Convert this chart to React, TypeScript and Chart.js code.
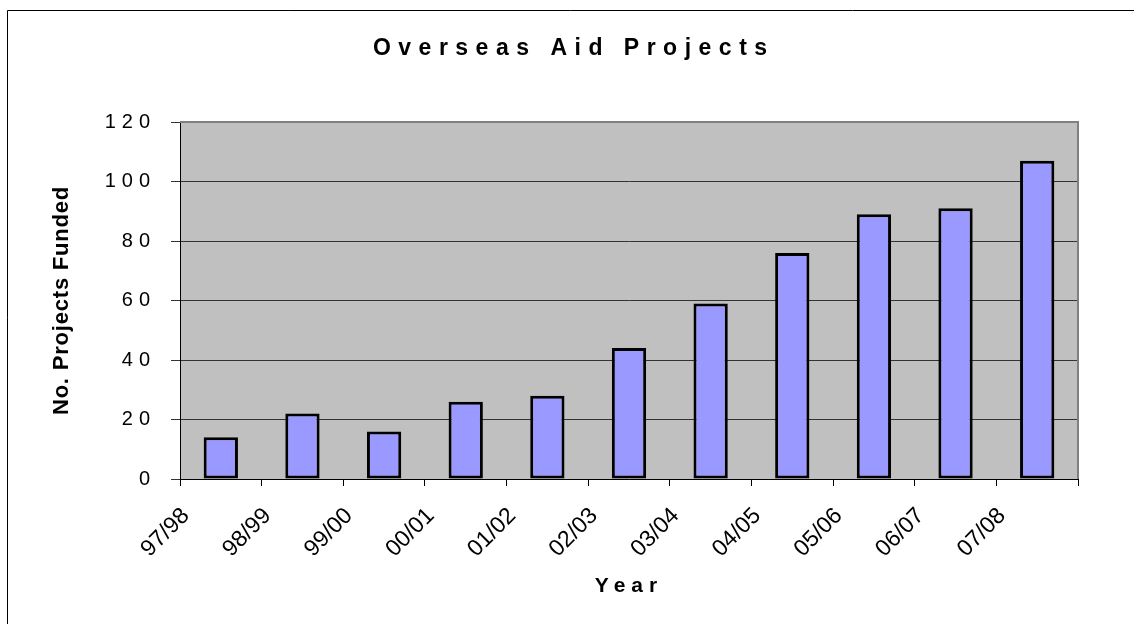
import React, { useEffect, useRef } from 'react';
import { Chart, registerables, LinearScale, CategoryScale } from 'chart.js';

const categories: string[] = ['97/98', '98/99', '99/00', '00/01', '01/02', '02/03', '03/04', '04/05', '05/06', '06/07', '07/08'];
const projectsFunded: number[] = [14, 22, 16, 26, 28, 44, 59, 76, 89, 91, 107];
const yMin = 0;
const yMax = 120;
const yStep = 20;
const chartTitle = 'Overseas Aid Projects';
const xAxisTitle = 'Year';
const yAxisTitle = 'No. Projects Funded';

const FONT = '"Liberation Sans", Arial, Helvetica, sans-serif';

class SpacedLinearScale extends LinearScale {
  static id = 'spacedLinear';
  drawLabels(area: any) {
    const ctx: any = this.ctx;
    ctx.save();
    ctx.letterSpacing = '6px';
    super.drawLabels(area);
    ctx.restore();
  }
  drawTitle() {
    const ctx: any = this.ctx;
    ctx.save();
    ctx.letterSpacing = '0.8px';
    super.drawTitle();
    ctx.restore();
  }
}

class SpacedCategoryScale extends CategoryScale {
  static id = 'spacedCategory';
  drawTitle() {
    const ctx: any = this.ctx;
    ctx.save();
    ctx.letterSpacing = '6px';
    super.drawTitle();
    ctx.restore();
  }
}

Chart.register(...registerables, SpacedLinearScale, SpacedCategoryScale);

const excelFrame = {
  id: 'excelFrame',
  beforeDraw(chart: any) {
    const { ctx, chartArea: a } = chart;
    ctx.save();
    ctx.fillStyle = '#ffffff';
    ctx.fillRect(0, 0, chart.width, chart.height);
    ctx.fillStyle = '#C0C0C0';
    ctx.fillRect(a.left, a.top, a.right - a.left, a.bottom - a.top);
    ctx.strokeStyle = '#000000';
    ctx.lineWidth = 1;
    ctx.beginPath();
    ctx.moveTo(7.5, chart.height);
    ctx.lineTo(7.5, 10.5);
    ctx.lineTo(chart.width, 10.5);
    ctx.stroke();
    ctx.restore();
  },
  beforeDatasetsDraw(chart: any) {
    const { ctx, chartArea: a } = chart;
    ctx.save();
    ctx.strokeStyle = '#808080';
    ctx.lineWidth = 2;
    ctx.beginPath();
    ctx.moveTo(a.left, a.top);
    ctx.lineTo(a.right, a.top);
    ctx.lineTo(a.right, a.bottom);
    ctx.stroke();
    ctx.restore();
  },
  afterDraw(chart: any) {
    const ctx: any = chart.ctx;
    ctx.save();
    ctx.font = `bold 23px ${FONT}`;
    ctx.letterSpacing = '7.5px';
    ctx.fillStyle = '#000000';
    ctx.textAlign = 'center';
    ctx.textBaseline = 'alphabetic';
    ctx.fillText(chartTitle, 570 + 3.75, 55);
    ctx.restore();
  },
};

export default function App() {
  const canvasRef = useRef<HTMLCanvasElement | null>(null);

  useEffect(() => {
    if (!canvasRef.current) return;
    const chart = new Chart(canvasRef.current, {
      type: 'bar',
      data: {
        labels: categories,
        datasets: [
          {
            label: yAxisTitle,
            data: projectsFunded,
            backgroundColor: '#9999FF',
            borderColor: '#000000',
            borderWidth: 3,
            borderSkipped: false,
            categoryPercentage: 1,
            barPercentage: 0.42,
          },
        ],
      },
      options: {
        responsive: false,
        animation: false,
        devicePixelRatio: 1,
        layout: { padding: { top: 122, right: 56, bottom: 0, left: 0 } },
        plugins: {
          legend: { display: false },
          title: { display: false },
          tooltip: { enabled: false },
        },
        scales: {
          x: {
            type: 'spacedCategory' as any,
            offset: true,
            afterFit: (scale: any) => {
              scale.height = 145;
            },
            grid: {
              offset: true,
              drawOnChartArea: false,
              drawTicks: true,
              tickLength: 7,
              color: '#000000',
            },
            border: { display: true, color: '#000000', width: 1 },
            ticks: {
              autoSkip: false,
              maxRotation: 45,
              minRotation: 45,
              padding: 16.5,
              labelOffset: -35,
              color: '#000000',
              font: { family: FONT, size: 23 },
            },
            title: {
              display: true,
              text: xAxisTitle,
              color: '#000000',
              font: { family: FONT, size: 21, weight: 'bold' },
              padding: { top: 0, bottom: 25.5 },
            },
          },
          y: {
            type: 'spacedLinear' as any,
            min: yMin,
            max: yMax,
            afterFit: (scale: any) => {
              scale.width = 180;
            },
            grid: {
              drawOnChartArea: true,
              drawTicks: true,
              tickLength: 9,
              color: '#333333',
              lineWidth: 1,
            },
            border: { display: true, color: '#000000', width: 1 },
            ticks: {
              stepSize: yStep,
              padding: 15,
              color: '#000000',
              font: { family: FONT, size: 20 },
            },
            title: {
              display: true,
              text: yAxisTitle,
              color: '#000000',
              font: { family: FONT, size: 22, weight: 'bold' },
              padding: { top: 48.8, bottom: 0 },
            },
          },
        },
      },
      plugins: [excelFrame],
    });
    return () => chart.destroy();
  }, []);

  return (
    <div style={{ position: 'fixed', left: 0, top: 0, width: 1134, height: 624, background: '#fff' }}>
      <canvas ref={canvasRef} width={1134} height={624} style={{ display: 'block' }} />
    </div>
  );
}
